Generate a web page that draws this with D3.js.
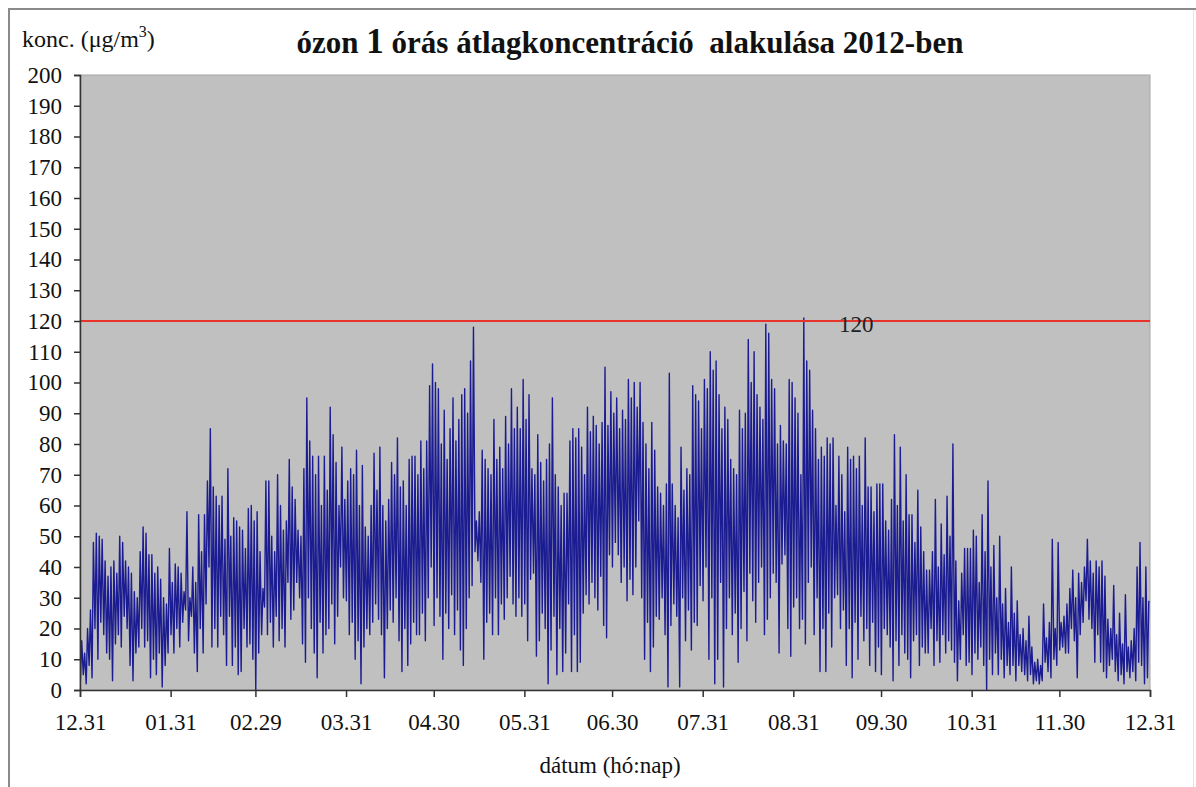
<!DOCTYPE html>
<html>
<head>
<meta charset="utf-8">
<script src="https://cdn.jsdelivr.net/npm/d3@7"></script>
<style>
  body { margin: 0; background: #fff; }
  svg { display: block; font-family: "Liberation Serif", "Times New Roman", serif; }
</style>
</head>
<body>
<svg width="1196" height="787"></svg>
<script>
// daily peaks and lows, day 0 = 2011-12-31
const dayMax = [
  16, 12, 20, 26, 48, 51, 50, 49, 42, 37,
  40, 42, 38, 50, 48, 42, 40, 38, 32, 30,
  45, 53, 51, 44, 44, 38, 40, 36, 30, 28,
  46, 35, 41, 40, 38, 32, 58, 30, 40, 35,
  57, 45, 57, 68, 85, 66, 63, 60, 63, 49,
  72, 50, 56, 55, 53, 52, 46, 59, 60, 55,
  58, 45, 33, 68, 68, 50, 45, 70, 60, 52,
  55, 75, 66, 62, 52, 50, 72, 95, 81, 76,
  70, 76, 60, 76, 65, 92, 83, 74, 60, 79,
  62, 68, 72, 70, 78, 60, 73, 53, 50, 60,
  77, 65, 79, 60, 55, 62, 74, 70, 82, 66,
  68, 60, 75, 76, 76, 70, 81, 72, 81, 99,
  106, 100, 98, 80, 91, 75, 85, 95, 81, 88,
  96, 98, 90, 107, 118, 55, 58, 78, 75, 72,
  70, 88, 75, 79, 72, 89, 80, 98, 85, 92,
  85, 101, 88, 96, 72, 70, 83, 74, 68, 75,
  80, 95, 70, 66, 60, 64, 64, 81, 85, 82,
  85, 79, 70, 92, 84, 89, 86, 80, 87, 105,
  86, 97, 90, 95, 85, 91, 88, 101, 95, 100,
  92, 100, 87, 80, 72, 87, 78, 66, 64, 60,
  67, 103, 67, 60, 56, 79, 65, 72, 70, 99,
  96, 94, 85, 101, 98, 110, 104, 107, 96, 85,
  92, 88, 75, 72, 70, 91, 85, 90, 114, 100,
  110, 96, 92, 88, 119, 116, 101, 98, 80, 86,
  81, 80, 101, 100, 95, 90, 70, 121, 107, 104,
  91, 85, 75, 79, 76, 82, 80, 82, 60, 76,
  70, 58, 79, 75, 76, 72, 76, 60, 82, 66,
  66, 58, 67, 67, 67, 55, 52, 62, 83, 60,
  79, 55, 70, 57, 57, 48, 65, 53, 45, 39,
  39, 45, 62, 40, 54, 44, 63, 50, 80, 42,
  29, 38, 46, 46, 46, 52, 50, 35, 57, 45,
  68, 40, 47, 30, 50, 28, 33, 22, 40, 25,
  29, 18, 20, 16, 24, 14, 9, 10, 8, 28,
  17, 22, 49, 20, 48, 22, 24, 28, 33, 39,
  30, 38, 35, 40, 49, 42, 38, 42, 40, 42,
  37, 23, 20, 34, 18, 25, 15, 31, 14, 16,
  20, 40, 48, 30, 40, 29
];
const dayMin = [
  3, 5, 2, 8, 4, 20, 10, 22, 18, 12,
  10, 3, 15, 18, 14, 24, 20, 8, 3, 12,
  14, 20, 14, 16, 4, 10, 5, 12, 1, 8,
  12, 18, 12, 20, 14, 22, 26, 16, 24, 12,
  6, 20, 12, 28, 40, 14, 20, 14, 24, 18,
  8, 24, 8, 14, 5, 6, 20, 14, 15, 10,
  0, 12, 18, 27, 18, 22, 14, 24, 16, 20,
  14, 35, 23, 26, 35, 30, 15, 9, 30, 20,
  12, 4, 22, 12, 18, 20, 28, 15, 24, 40,
  30, 29, 18, 22, 10, 16, 2, 14, 20, 18,
  22, 28, 23, 18, 4, 20, 26, 22, 30, 16,
  6, 20, 8, 15, 22, 18, 18, 25, 16, 30,
  40, 21, 30, 24, 10, 25, 20, 31, 18, 26,
  13, 8, 20, 30, 34, 45, 42, 35, 10, 22,
  25, 18, 30, 18, 28, 23, 30, 37, 28, 24,
  30, 24, 28, 16, 36, 38, 11, 16, 25, 20,
  2, 13, 24, 5, 20, 6, 12, 28, 6, 18,
  6, 9, 25, 31, 28, 35, 30, 26, 37, 21,
  17, 44, 40, 48, 44, 35, 40, 29, 36, 31,
  40, 55, 30, 10, 22, 6, 14, 24, 23, 30,
  18, 1, 21, 28, 24, 1, 30, 16, 26, 13,
  22, 21, 34, 29, 40, 10, 30, 2, 10, 35,
  1, 20, 30, 18, 25, 9, 20, 32, 16, 38,
  29, 22, 35, 40, 18, 23, 30, 38, 35, 12,
  41, 44, 20, 11, 27, 30, 20, 23, 15, 35,
  40, 18, 30, 6, 20, 6, 25, 14, 30, 31,
  20, 26, 8, 20, 4, 22, 10, 24, 16, 20,
  8, 22, 6, 14, 5, 20, 18, 14, 3, 16,
  8, 18, 12, 10, 4, 16, 18, 8, 14, 12,
  12, 20, 8, 16, 9, 18, 12, 16, 13, 9,
  3, 10, 18, 8, 9, 5, 12, 10, 14, 8,
  0, 10, 5, 12, 5, 10, 4, 8, 5, 8,
  3, 8, 6, 5, 3, 5, 2, 3, 2, 3,
  9, 6, 4, 10, 8, 13, 14, 12, 12, 20,
  16, 4, 18, 22, 29, 23, 20, 9, 18, 9,
  6, 4, 8, 10, 6, 3, 5, 2, 6, 4,
  6, 3, 9, 8, 2, 4
];
const tickDates = ["2011-12-31", "2012-01-31", "2012-02-29", "2012-03-31", "2012-04-30",
  "2012-05-31", "2012-06-30", "2012-07-31", "2012-08-31", "2012-09-30",
  "2012-10-31", "2012-11-30", "2012-12-31"];
const limitValue = 120;

const svg = d3.select("svg");
const plotL = 80, plotR = 1150, plotT = 75, plotB = 690;

const start = new Date(2011, 11, 31);
const x = d3.scaleTime()
    .domain([start, new Date(2012, 11, 31)])
    .range([plotL, plotR]);
const y = d3.scaleLinear().domain([0, 200]).range([plotB, plotT]);

// low in the early morning, peak in the afternoon
const series = [];
dayMax.forEach((v, i) => {
    const day = d3.timeDay.offset(start, i);
    series.push({t: d3.timeHour.offset(day, 3), v: dayMin[i]});
    series.push({t: d3.timeHour.offset(day, 14), v: v});
});

// outer frame
svg.append("line").attr("x1", 8).attr("x2", 1196).attr("y1", 9).attr("y2", 9)
    .attr("stroke", "#8a8a8a").attr("stroke-width", 2);
svg.append("line").attr("x1", 9).attr("x2", 9).attr("y1", 8).attr("y2", 787)
    .attr("stroke", "#8a8a8a").attr("stroke-width", 2);
svg.append("line").attr("x1", 1193.5).attr("x2", 1193.5).attr("y1", 10).attr("y2", 787)
    .attr("stroke", "#e4e4e4").attr("stroke-width", 1);

svg.append("rect")
    .attr("x", plotL).attr("y", plotT)
    .attr("width", plotR - plotL).attr("height", plotB - plotT)
    .attr("fill", "#c0c0c0")
    .attr("stroke", "#a6a6a6");

svg.append("defs").append("clipPath").attr("id", "plot")
    .append("rect").attr("x", plotL).attr("y", plotT)
    .attr("width", plotR - plotL).attr("height", plotB - plotT);

svg.append("path")
    .datum(series)
    .attr("clip-path", "url(#plot)")
    .attr("fill", "none")
    .attr("stroke", "#1c1c92")
    .attr("stroke-width", 1.4)
    .attr("stroke-linejoin", "round")
    .attr("d", d3.line().x(d => x(d.t)).y(d => y(d.v)));

// limit line
svg.append("line")
    .attr("x1", plotL).attr("x2", plotR)
    .attr("y1", y(limitValue)).attr("y2", y(limitValue))
    .attr("stroke", "#e8332c").attr("stroke-width", 2);
svg.append("text")
    .attr("x", 839).attr("y", 332)
    .attr("font-size", 23).attr("fill", "#222")
    .text(limitValue);

// axes
const yAxis = d3.axisLeft(y).tickValues(d3.range(0, 201, 10)).tickSize(6).tickPadding(12);
const gy = svg.append("g").attr("transform", `translate(${plotL},0)`).call(yAxis);

const parse = d3.timeParse("%Y-%m-%d");
const xAxis = d3.axisBottom(x)
    .tickValues(tickDates.map(parse))
    .tickFormat(d3.timeFormat("%m.%d"))
    .tickSize(7).tickPadding(17);
const gx = svg.append("g").attr("transform", `translate(0,${plotB})`).call(xAxis);

[gx, gy].forEach(g => {
    g.attr("font-family", "Liberation Serif");
    g.select(".domain").attr("stroke", "#333").attr("stroke-width", 1.5);
    g.selectAll(".tick line").attr("stroke", "#333").attr("stroke-width", 1.5);
    g.selectAll("text").attr("font-size", 23).attr("fill", "#111");
});

// titles
const title = svg.append("text")
    .attr("x", 630).attr("y", 53)
    .attr("text-anchor", "middle")
    .attr("font-size", 31).attr("font-weight", "bold").attr("fill", "#111");
title.append("tspan").text("ózon ");
title.append("tspan").attr("font-size", 35).text("1");
title.append("tspan").text(" órás átlagkoncentráció\u00a0 alakulása 2012-ben");

const ylab = svg.append("text")
    .attr("x", 22).attr("y", 47)
    .attr("font-size", 24).attr("fill", "#111");
ylab.append("tspan").text("konc. (μg/m");
ylab.append("tspan").attr("font-size", 16).attr("dy", -10).text("3");
ylab.append("tspan").attr("dy", 10).text(")");

svg.append("text")
    .attr("x", 610).attr("y", 773)
    .attr("text-anchor", "middle")
    .attr("font-size", 23).attr("fill", "#111")
    .text("dátum (hó:nap)");
</script>
</body>
</html>
